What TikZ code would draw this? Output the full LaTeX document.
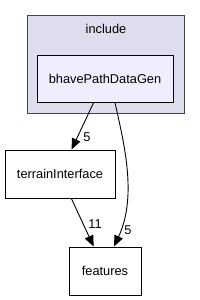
\documentclass[tikz,border=0pt]{standalone}
\usepackage{fontspec}
\setmainfont{Liberation Sans}
\usetikzlibrary{arrows.meta}
\definecolor{clusterfill}{HTML}{DDDDEE}
\definecolor{curfill}{HTML}{EEEEFF}
\definecolor{clusterline}{HTML}{444444}
\begin{document}
\begin{tikzpicture}[x=1pt,y=-1pt,
  every node/.style={font=\fontsize{12.8}{15}\selectfont},
  dirbox/.style={draw=black,line width=0.9pt,rectangle,inner sep=0pt},
  dep/.style={draw=black,line width=0.9pt,-{Triangle[length=11pt,width=9pt]}},
  lbl/.style={inner sep=0pt}]
\useasboundingbox (0,0) rectangle (200,300);
\node[draw=clusterline,fill=clusterfill,line width=0.9pt,rectangle,inner sep=0pt,
  minimum width=157pt,minimum height=98pt] (include) at (105.5,64) {};
\node[lbl] (includelbl) at (106,29) {include};
\node[dirbox,fill=curfill,minimum width=136pt,minimum height=47pt] (bhave) at (105,78.5) {bhavePathDataGen};
\node[dirbox,fill=white,minimum width=110pt,minimum height=48pt] (terrain) at (60,174) {terrainInterface};
\node[dirbox,fill=white,minimum width=72pt,minimum height=48pt] (features) at (105,271) {features};
\draw[dep] (bhave) -- (terrain);
\draw[dep] (terrain) -- (features);
\draw[dep] ([xshift=10pt]bhave.south) .. controls (123,140) and (138,195) .. ([xshift=9pt]features.north);
\node[lbl] (l1) at (87,137) {5};
\node[lbl] (l2) at (128,230) {5};
\node[lbl] (l3) at (95,224) {11};
\end{tikzpicture}
\end{document}
